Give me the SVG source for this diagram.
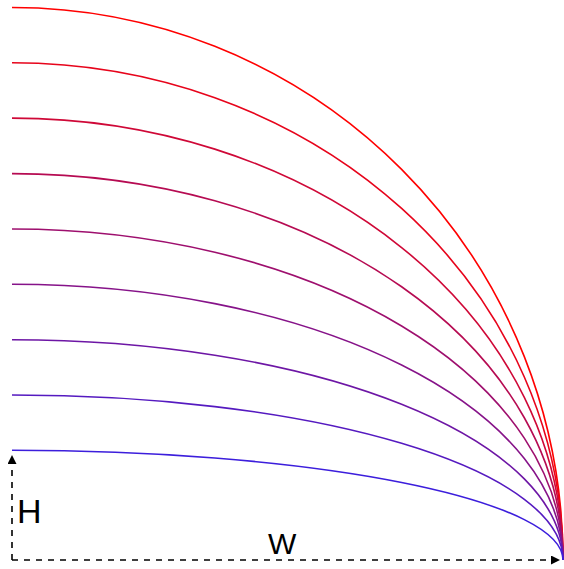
<svg xmlns="http://www.w3.org/2000/svg" width="564" height="569" viewBox="0 0 564 569">
  <style>
    .arc { fill: none; stroke-width: 1.6; }
    .dim { fill: none; stroke: #000; stroke-width: 1.6; stroke-dasharray: 6 6; }
    .lbl { font-family: "Liberation Sans", Arial, sans-serif; fill: #000; }
  </style>
  <defs>
    <marker id="ah" viewBox="0 0 10 10" refX="10" refY="5" markerWidth="9" markerHeight="9" markerUnits="userSpaceOnUse" orient="auto">
      <path d="M0,0 L10,5 L0,10 Z" fill="#000"/>
    </marker>
  </defs>
  <rect width="564" height="569" fill="#fff"/>
  <g id="curves">
    <path class="arc" stroke="rgb(255,0,0)" d="M12,7.5 A551,552.5 0 0 1 563,560"/>
    <path class="arc" stroke="rgb(231,4,27)" d="M12,62.8 A551,497.2 0 0 1 563,560"/>
    <path class="arc" stroke="rgb(207,8,55)" d="M12,118.1 A551,441.9 0 0 1 563,560"/>
    <path class="arc" stroke="rgb(182,11,82)" d="M12,173.6 A551,386.4 0 0 1 563,560"/>
    <path class="arc" stroke="rgb(158,15,110)" d="M12,229 A551,331 0 0 1 563,560"/>
    <path class="arc" stroke="rgb(134,19,137)" d="M12,284.3 A551,275.7 0 0 1 563,560"/>
    <path class="arc" stroke="rgb(109,22,165)" d="M12,339.7 A551,220.3 0 0 1 563,560"/>
    <path class="arc" stroke="rgb(85,26,192)" d="M12,395 A551,165 0 0 1 563,560"/>
    <path class="arc" stroke="rgb(60,30,220)" d="M12,450.3 A551,109.7 0 0 1 563,560"/>
  </g>
  <g id="connectors">
    <path class="dim" d="M12,560 L12,455" marker-end="url(#ah)"/>
    <path class="dim" d="M12,560 L560,560" marker-end="url(#ah)"/>
  </g>
  <g id="label-H"><text class="lbl" x="17" y="523" font-size="34">H</text></g>
  <g id="label-W"><text class="lbl" x="268" y="554" font-size="30">W</text></g>
</svg>
